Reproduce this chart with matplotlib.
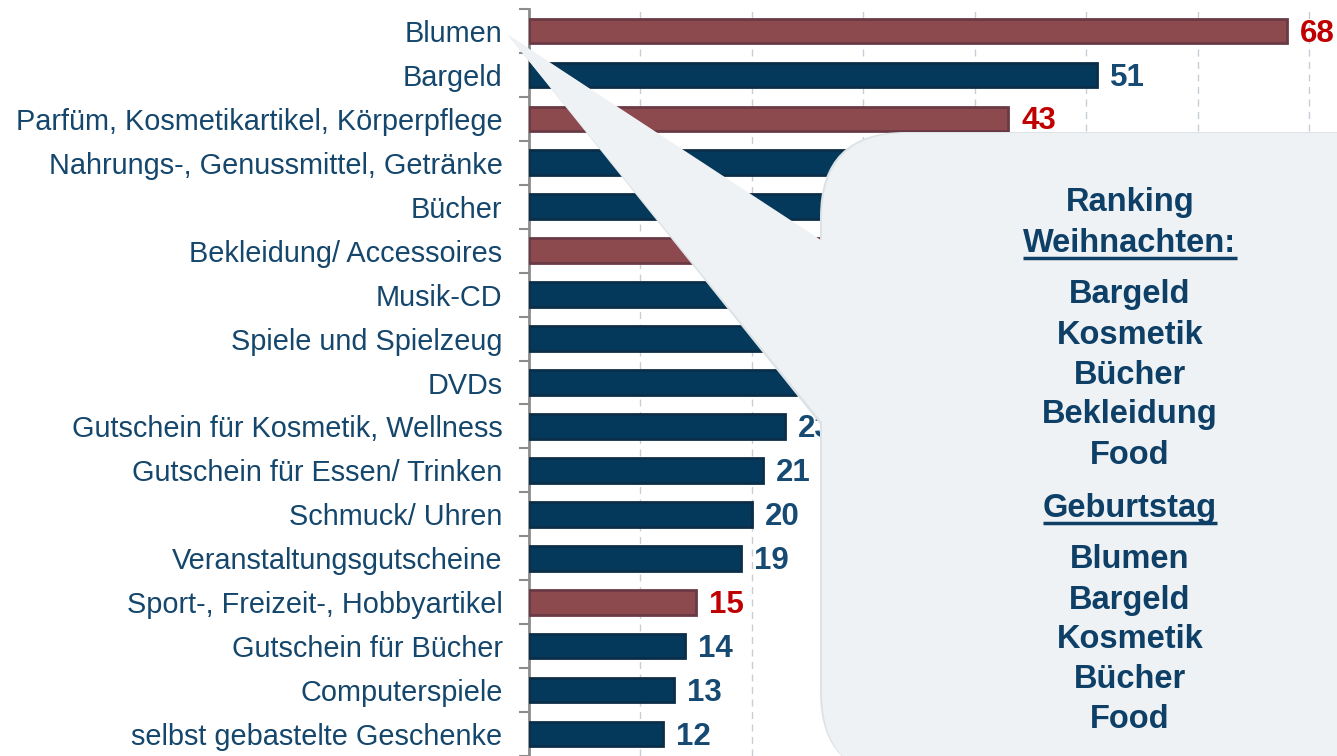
import matplotlib
matplotlib.use("Agg")
import matplotlib.pyplot as plt
from matplotlib.patches import FancyBboxPatch, Polygon
import numpy as np

plt.rcParams['font.family'] = ['Liberation Sans', 'DejaVu Sans']

categories = [
    "Blumen", "Bargeld", "Parfüm, Kosmetikartikel, Körperpflege",
    "Nahrungs-, Genussmittel, Getränke", "Bücher", "Bekleidung/ Accessoires",
    "Musik-CD", "Spiele und Spielzeug", "DVDs",
    "Gutschein für Kosmetik, Wellness", "Gutschein für Essen/ Trinken",
    "Schmuck/ Uhren", "Veranstaltungsgutscheine",
    "Sport-, Freizeit-, Hobbyartikel", "Gutschein für Bücher",
    "Computerspiele", "selbst gebastelte Geschenke",
]
values = [68, 51, 43, 40, 36, 33, 29, 27, 24, 23, 21, 20, 19, 15, 14, 13, 12]
highlighted = [True, False, True, False, False, True, False, False, False,
               False, False, False, False, True, False, False, False]

callout_title = ["Ranking", "Weihnachten:"]
ranking_christmas = ["Bargeld", "Kosmetik", "Bücher", "Bekleidung", "Food"]
ranking_birthday_title = "Geburtstag"
ranking_birthday = ["Blumen", "Bargeld", "Kosmetik", "Bücher", "Food"]

W, H = 1337, 756
fig = plt.figure(figsize=(W / 100, H / 100), dpi=100)
fig.patch.set_facecolor("white")

x0_px, top_px = 529, 9
ax = fig.add_axes([x0_px / W, 0, 1 - x0_px / W, 1 - top_px / H])
n = len(categories)
y = np.arange(n)

RED, RED_EDGE = "#8C4A4F", "#6A3A44"
BLUE, BLUE_EDGE = "#04395C", "#0B2E48"
fill = [RED if h else BLUE for h in highlighted]
edge = [RED_EDGE if h else BLUE_EDGE for h in highlighted]
ax.barh(y, values, height=0.56, color=fill, edgecolor=edge, linewidth=2.0, zorder=3)

ax.set_ylim(16.41, -0.5)
ax.set_xlim(0, 72.5)

LABEL_BLUE = "#15466C"
VAL_BLUE = "#164A72"
VAL_RED = "#C00000"
for yi, v, h in zip(y, values, highlighted):
    ax.text(v + 1.15, yi + 0.06, str(v), va="center", ha="left",
            fontsize=22.5, fontweight="bold",
            color=VAL_RED if h else VAL_BLUE, zorder=4)

ax.set_yticks(y)
ax.set_yticklabels(categories, fontsize=20.8, color=LABEL_BLUE)
ax.set_yticks(np.arange(-0.5, n, 1.0), minor=True)
ax.tick_params(axis="y", which="major", length=0, pad=19)
ax.tick_params(axis="y", which="minor", length=7, width=1.5, color="#8C8C8C")
ax.set_xticks(np.arange(10, 71, 10))
ax.tick_params(axis="x", length=0, labelbottom=False)
ax.grid(axis="x", color="#C5CED6", linestyle=(0, (5, 4)), linewidth=1.0, zorder=0)
for s in ["top", "right", "bottom"]:
    ax.spines[s].set_visible(False)
ax.spines["left"].set_color("#8C8C8C")
ax.spines["left"].set_linewidth(2)
ax.set_facecolor("none")

# overlay for callout in pixel coordinates
ov = fig.add_axes([0, 0, 1, 1], zorder=10)
ov.set_xlim(0, W)
ov.set_ylim(H, 0)
ov.axis("off")
ov.patch.set_alpha(0)

BOX = "#EEF2F4"
SHADOW = "#DCE2E6"
bx, by, bw, bh, r = 822, 133, 700, 645, 85
tip = (508, 35)
tri = [tip, (830, 246), (830, 432)]
ov.add_patch(FancyBboxPatch((bx - 2, by - 1), bw, bh,
                            boxstyle=f"round,pad=0,rounding_size={r}",
                            facecolor=SHADOW, edgecolor="none"))
ov.add_patch(Polygon([(tip[0], tip[1]), (828, 248), (828, 434)],
                     closed=True, facecolor=SHADOW, edgecolor="none"))
ov.add_patch(FancyBboxPatch((bx, by), bw, bh,
                            boxstyle=f"round,pad=0,rounding_size={r}",
                            facecolor=BOX, edgecolor="none"))
ov.add_patch(Polygon(tri, closed=True, facecolor=BOX, edgecolor="none"))

TXT = "#0E3F66"
cx = 1130
lines = [(callout_title[0], 203, False), (callout_title[1], 243, True)]
ys = [295, 335, 375, 415, 455]
lines += [(t, yy, False) for t, yy in zip(ranking_christmas, ys)]
lines.append((ranking_birthday_title, 508, True))
ys2 = [560, 600, 640, 680, 720]
lines += [(t, yy, False) for t, yy in zip(ranking_birthday, ys2)]

texts = []
for t, yy, ul in lines:
    tx = ov.text(cx, yy, t, ha="center", va="center", fontsize=23.5,
                 fontweight="bold", color=TXT)
    texts.append((tx, ul))

fig.canvas.draw()
renderer = fig.canvas.get_renderer()
for tx, ul in texts:
    if ul:
        bb = tx.get_window_extent(renderer)
        yl = H - bb.y0 - 1
        ov.plot([bb.x0, bb.x1], [yl, yl], color=TXT, linewidth=2.5,
                solid_capstyle="butt")

fig.savefig("out.png", dpi=100, facecolor="white")
